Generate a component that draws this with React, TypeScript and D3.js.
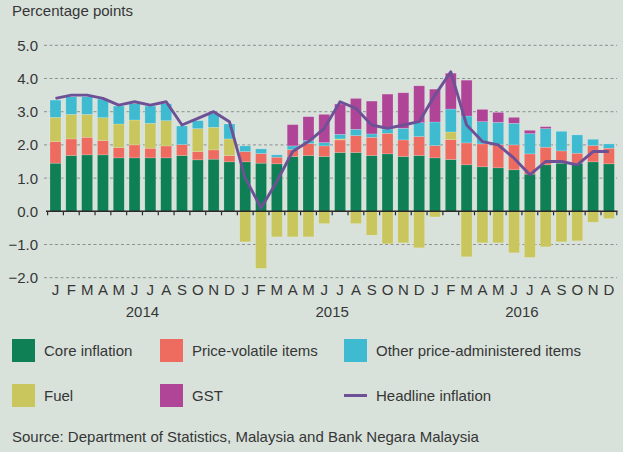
import React from "react";
import * as d3 from "d3";

const years = ["2014", "2015", "2016"];
const monthInitials = ["J", "F", "M", "A", "M", "J", "J", "A", "S", "O", "N", "D"];

const core = [
  1.45, 1.68, 1.70, 1.70, 1.61, 1.61, 1.61, 1.61, 1.68, 1.55, 1.57, 1.49,
  1.49, 1.45, 1.43, 1.65, 1.68, 1.65, 1.77, 1.77, 1.68, 1.73, 1.65, 1.68,
  1.61, 1.56, 1.40, 1.34, 1.31, 1.25, 1.12, 1.40, 1.45, 1.45, 1.49, 1.43,
];
const priceVolatile = [
  0.65, 0.50, 0.53, 0.43, 0.31, 0.39, 0.29, 0.36, 0.33, 0.25, 0.28, 0.19,
  0.31, 0.29, 0.20, 0.21, 0.36, 0.32, 0.38, 0.51, 0.55, 0.62, 0.50, 0.57,
  0.37, 0.60, 0.66, 0.69, 0.70, 0.75, 0.61, 0.53, 0.37, 0.30, 0.49, 0.47,
];
const fuel = [
  0.73, 0.74, 0.69, 0.69, 0.71, 0.75, 0.75, 0.76, 0.0, 0.69, 0.68, 0.50,
  -0.92, -1.72, -0.77, -0.77, -0.77, -0.37, 0.03, -0.37, -0.72, -0.98, -0.95, -1.10,
  -0.17, 0.23, -1.37, -0.95, -0.95, -1.25, -1.39, -1.07, -0.92, -0.89, -0.33, -0.22,
];
const otherAdmin = [
  0.52, 0.53, 0.53, 0.56, 0.54, 0.49, 0.52, 0.51, 0.56, 0.24, 0.42, 0.45,
  0.17, 0.14, 0.07, 0.11, 0.09, 0.10, 0.14, 0.19, 0.10, 0.13, 0.35, 0.42,
  0.71, 0.69, 0.81, 0.67, 0.67, 0.65, 0.61, 0.56, 0.59, 0.55, 0.19, 0.13,
];
const gst = [
  0, 0, 0, 0, 0, 0, 0, 0, 0, 0, 0, 0,
  0, 0, 0, 0.64, 0.72, 0.85, 0.91, 0.93, 0.99, 1.05, 1.07, 1.11,
  0.99, 1.08, 1.08, 0.37, 0.30, 0.18, 0.10, 0.06, 0, 0, 0, 0,
];
const headline = [
  3.4, 3.5, 3.5, 3.4, 3.2, 3.3, 3.2, 3.3, 2.6, 2.8, 3.0, 2.7,
  1.0, 0.1, 0.9, 1.8, 2.1, 2.5, 3.3, 3.1, 2.6, 2.5, 2.6, 2.7,
  3.5, 4.2, 2.6, 2.1, 2.0, 1.6, 1.1, 1.5, 1.5, 1.4, 1.8, 1.8,
];
const yTicks = [-2, -1, 0, 1, 2, 3, 4, 5];

const seriesKeys = ["core", "pv", "fuel", "other", "gst"];
const seriesColors: Record<string, string> = {
  core: "#0f7f55",
  pv: "#ee6b60",
  fuel: "#c8c65c",
  other: "#3ebbd1",
  gst: "#b04598",
};
const lineColor = "#6e5096";
const bg = "#d8e2db";
const textColor = "#363636";
const font = "'Liberation Sans', Arial, Helvetica, sans-serif";

const legendItems = [
  { label: "Core inflation", key: "core" },
  { label: "Price-volatile items", key: "pv" },
  { label: "Other price-administered items", key: "other" },
  { label: "Fuel", key: "fuel" },
  { label: "GST", key: "gst" },
  { label: "Headline inflation", key: "line" },
];

export default function App() {
  const W = 623;
  const H = 452;
  const n = core.length;
  const idx = d3.range(n);

  const xBand = d3.scaleBand<number>().domain(idx).range([47.6, 616.8]).padding(0);
  const barW = 11;
  const cx = (i: number) => (xBand(i) as number) + xBand.bandwidth() / 2;

  const y = d3.scaleLinear().domain([-2, 5]).range([277.7, 45.3]);

  const rows = idx.map((i) => ({
    core: core[i],
    pv: priceVolatile[i],
    fuel: fuel[i],
    other: otherAdmin[i],
    gst: gst[i],
  }));
  const stacked = d3
    .stack<any>()
    .keys(seriesKeys)
    .offset(d3.stackOffsetDiverging)(rows);

  const line = d3
    .line<number>()
    .x((_, i) => cx(i))
    .y((v) => y(v));

  const boundaries = d3.range(n + 1).map((i) => 47.6 + i * xBand.step());

  const legendCols = [12, 160, 344];
  const legendRows = [339, 384];

  return (
    <svg
      width={W}
      height={H}
      style={{ position: "absolute", left: 0, top: 0, display: "block" }}
      fontFamily={font}
    >
      <rect x={0} y={0} width={W} height={H} fill={bg} />
      <text x={12} y={16} fontSize={15} fill={textColor}>
        Percentage points
      </text>

      {yTicks.map((t) => (
        <g key={t}>
          {t !== 0 && (
            <line
              x1={44}
              x2={617}
              y1={y(t)}
              y2={y(t)}
              stroke="#8d928f"
              strokeWidth={1}
              strokeDasharray="3,2.5"
            />
          )}
          <text
            x={38}
            y={y(t)}
            dy="0.36em"
            textAnchor="end"
            fontSize={15}
            fill={textColor}
          >
            {d3.format(".1f")(t)}
          </text>
        </g>
      ))}

      {stacked.map((s) => (
        <g key={s.key}>
          {s.map((d, i) => {
            const y0 = y(d[0]);
            const y1 = y(d[1]);
            const h = Math.abs(y0 - y1);
            if (h < 0.01) return null;
            return (
              <rect
                key={i}
                x={cx(i) - barW / 2}
                y={Math.min(y0, y1)}
                width={barW}
                height={h}
                fill={seriesColors[s.key]}
                stroke="rgba(255,255,255,0.3)"
                strokeWidth={0.6}
              />
            );
          })}
        </g>
      ))}

      <line x1={46} x2={617.5} y1={y(0)} y2={y(0)} stroke="#2b2b2b" strokeWidth={1.5} />
      {boundaries.map((bx, i) => (
        <line key={i} x1={bx} x2={bx} y1={y(0)} y2={y(0) + 4} stroke="#2b2b2b" strokeWidth={1.2} />
      ))}

      <path
        d={line(headline) || ""}
        fill="none"
        stroke={lineColor}
        strokeWidth={2.9}
        strokeLinejoin="round"
      />

      {idx.map((i) => (
        <text
          key={i}
          x={cx(i)}
          y={295}
          textAnchor="middle"
          fontSize={15}
          fill={textColor}
        >
          {monthInitials[i % 12]}
        </text>
      ))}
      {years.map((yr, k) => (
        <text
          key={yr}
          x={(cx(k * 12) + cx(k * 12 + 11)) / 2}
          y={317}
          textAnchor="middle"
          fontSize={15}
          fill={textColor}
        >
          {yr}
        </text>
      ))}

      {legendItems.map((item, k) => {
        const lx = legendCols[k % 3];
        const ly = legendRows[Math.floor(k / 3)];
        return (
          <g key={item.key}>
            {item.key === "line" ? (
              <line
                x1={lx}
                x2={lx + 23}
                y1={ly + 11.5}
                y2={ly + 11.5}
                stroke={lineColor}
                strokeWidth={3}
              />
            ) : (
              <rect x={lx} y={ly} width={23} height={23} fill={seriesColors[item.key]} />
            )}
            <text x={lx + 32} y={ly + 11.5} dy="0.36em" fontSize={15} fill={textColor}>
              {item.label}
            </text>
          </g>
        );
      })}

      <text x={12} y={442} fontSize={15} fill={textColor}>
        Source: Department of Statistics, Malaysia and Bank Negara Malaysia
      </text>
    </svg>
  );
}
